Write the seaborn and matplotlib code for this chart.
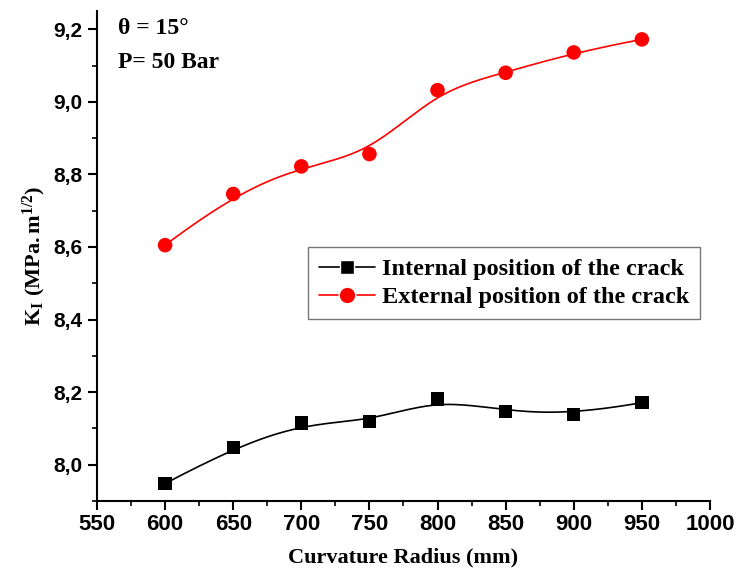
import numpy as np
import pandas as pd
import matplotlib
matplotlib.use("Agg")
import matplotlib.pyplot as plt
from matplotlib.lines import Line2D
from matplotlib.ticker import MultipleLocator, FuncFormatter
import seaborn as sns

# Curvature radius (mm) and stress intensity factor K_I (MPa.m^1/2)
radius = [600, 650, 700, 750, 800, 850, 900, 950]
k_internal = [7.948, 8.047, 8.115, 8.119, 8.181, 8.147, 8.138, 8.171]
k_external = [8.605, 8.746, 8.822, 8.856, 9.032, 9.080, 9.136, 9.172]
series_names = ["Internal position of the crack", "External position of the crack"]
series_colors = ["#000000", "#ff0000"]
series_markers = ["s", "o"]


def bspline_curve(x, y, n=400, k=3):
    """Clamped cubic B-spline using the data points as control points."""
    P = np.column_stack([x, y]).astype(float)
    m = len(P)
    knots = np.concatenate([np.zeros(k), np.arange(m - k + 1), np.full(k, m - k)]).astype(float)
    ts = np.linspace(0, m - k, n)
    out = np.empty((n, 2))
    for j, t in enumerate(ts):
        # knot span index
        s = int(np.searchsorted(knots, t, side="right") - 1)
        s = min(max(s, k), m - 1)
        d = [P[i].copy() for i in range(s - k, s + 1)]
        for r in range(1, k + 1):
            for i in range(k, r - 1, -1):
                idx = i + s - k
                denom = knots[idx + 1 + k - r] - knots[idx]
                a = 0.0 if denom == 0 else (t - knots[idx]) / denom
                d[i] = (1 - a) * d[i - 1] + a * d[i]
        out[j] = d[k]
    return out[:, 0], out[:, 1]


sns.set_theme(style="ticks")
plt.rcParams.update({
    "font.family": ["Liberation Sans", "DejaVu Sans"],
    "font.weight": "bold",
    "mathtext.fontset": "custom",
    "mathtext.rm": "Liberation Serif:bold",
    "mathtext.it": "Liberation Serif:bold",
    "mathtext.bf": "Liberation Serif:bold",
    "axes.linewidth": 1.5,
    "axes.edgecolor": "black",
    "axes.labelcolor": "black",
    "text.color": "black",
    "xtick.color": "black",
    "ytick.color": "black",
})

fig = plt.figure(figsize=(7.38, 5.71), dpi=100)
ax = fig.add_axes([0.1314, 0.1226, 0.8306, 0.858])

points = pd.DataFrame({
    "radius": radius * 2,
    "K": k_internal + k_external,
    "series": [series_names[0]] * len(radius) + [series_names[1]] * len(radius),
})

curves = []
for name, ys in zip(series_names, [k_internal, k_external]):
    sx, sy = bspline_curve(radius, ys)
    curves.append(pd.DataFrame({"radius": sx, "K": sy, "series": name}))
curves = pd.concat(curves, ignore_index=True)

palette = dict(zip(series_names, series_colors))
sns.lineplot(data=curves, x="radius", y="K", hue="series", palette=palette,
             linewidth=1.2, legend=False, ax=ax, sort=False, estimator=None)
sns.scatterplot(data=points[points.series == series_names[0]], x="radius", y="K",
                color=series_colors[0], marker="s", s=92, edgecolor="none",
                legend=False, ax=ax, zorder=3)
sns.scatterplot(data=points[points.series == series_names[1]], x="radius", y="K",
                color=series_colors[1], marker="o", s=110, edgecolor="none",
                legend=False, ax=ax, zorder=3)

ax.set_xlim(550, 1000)
ax.set_ylim(7.9, 9.25)
ax.xaxis.set_major_locator(MultipleLocator(50))
ax.xaxis.set_minor_locator(MultipleLocator(25))
ax.yaxis.set_major_locator(MultipleLocator(0.2))
ax.yaxis.set_minor_locator(MultipleLocator(0.1))
ax.yaxis.set_major_formatter(FuncFormatter(lambda v, p: f"{v:.1f}".replace(".", ",")))
ax.xaxis.set_major_formatter(FuncFormatter(lambda v, p: f"{v:.0f}"))
ax.tick_params(which="major", direction="out", length=6.5, width=1.5)
ax.tick_params(which="minor", direction="out", length=3.8, width=1.2)
ax.tick_params(axis="x", which="major", labelsize=16, pad=3)
ax.tick_params(axis="y", which="major", labelsize=15, pad=4)
for lbl in ax.get_xticklabels() + ax.get_yticklabels():
    lbl.set_fontweight("bold")
sns.despine(ax=ax)

ax.set_xlabel("Curvature Radius (mm)", fontfamily="Liberation Serif",
              fontweight="bold", fontsize=16, labelpad=9)
ax.set_ylabel(r"$\mathrm{K_I\ (MPa.m^{1/2})}$", fontsize=16, labelpad=4)

ax.text(0.034, 0.965, "θ = 15°", transform=ax.transAxes, fontfamily="Liberation Serif",
        fontweight="bold", fontsize=17, va="center", ha="left")
ax.text(0.034, 0.896, "P= 50 Bar", transform=ax.transAxes, fontfamily="Liberation Serif",
        fontweight="bold", fontsize=17, va="center", ha="left")

handles = [Line2D([0], [0], color=c, marker=m, markersize=ms, linewidth=1.2,
                  markeredgecolor="white", markeredgewidth=1.0)
           for c, m, ms in zip(series_colors, series_markers, [10, 12])]
leg = ax.legend(handles, series_names, loc="upper left", bbox_to_anchor=(0.344, 0.518),
                borderaxespad=0,
                prop={"family": "Liberation Serif", "weight": "bold", "size": 17.5},
                frameon=True, fancybox=False, edgecolor="#555555", handlelength=2.3,
                handletextpad=0.3, borderpad=0.45, labelspacing=0.25)
leg.get_frame().set_linewidth(1.0)

fig.savefig("out.png", dpi=100)
